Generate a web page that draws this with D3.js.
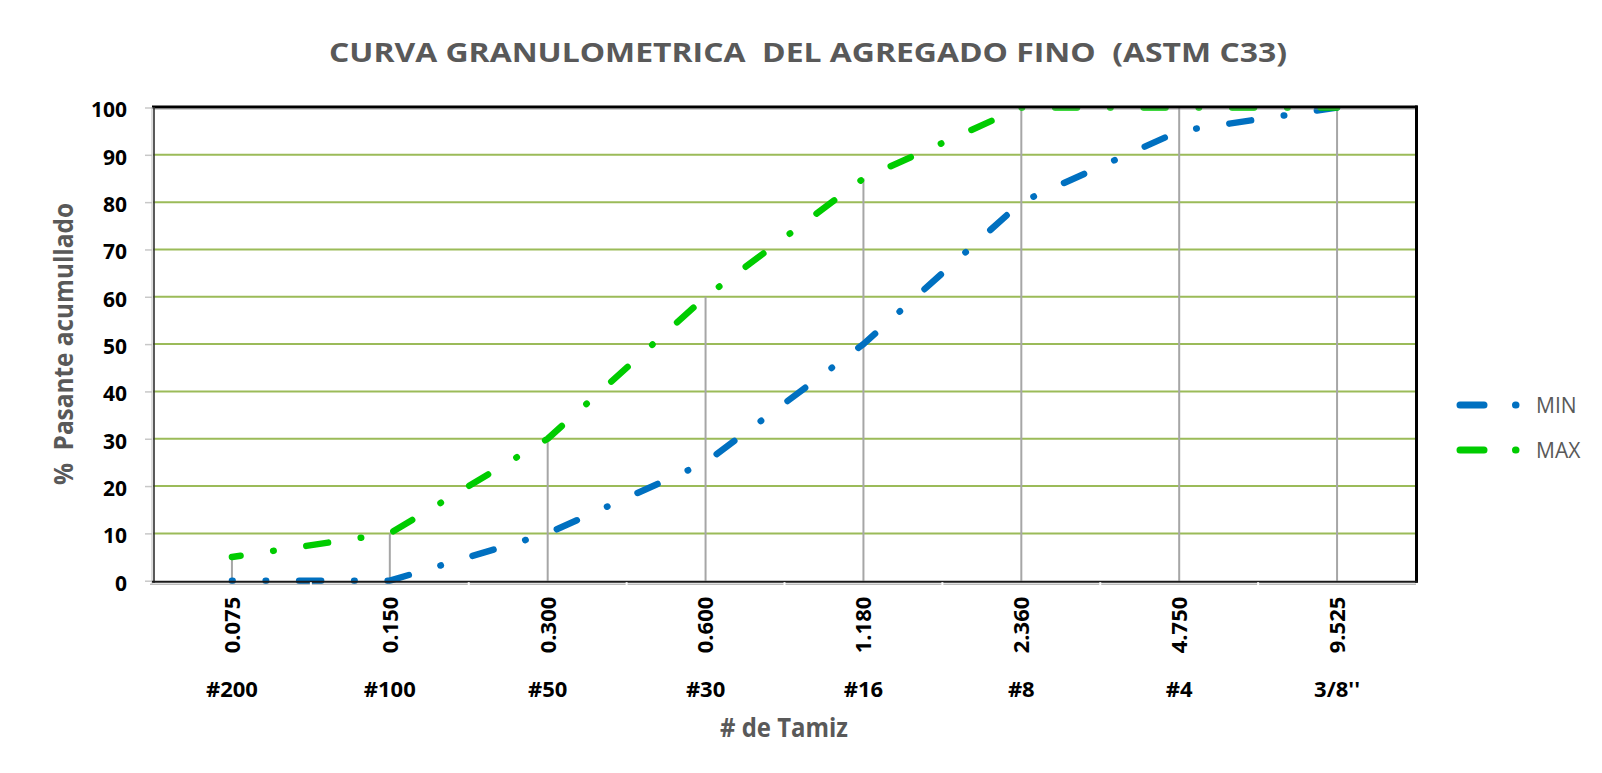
<!DOCTYPE html>
<html>
<head>
<meta charset="utf-8">
<script src="https://cdn.jsdelivr.net/npm/d3@7"></script>
<style>
  html, body { margin: 0; padding: 0; background: #ffffff; }
  svg { display: block; }
  text { font-family: "Open Sans", "DejaVu Sans", sans-serif; white-space: pre; }
</style>
</head>
<body>
<svg id="chart" width="1602" height="773"></svg>
<script>
// Sieve openings (mm) and sieve designations
const sieveSizes = ["0.075", "0.150", "0.300", "0.600", "1.180", "2.360", "4.750", "9.525"];
const sieveNames = ["#200", "#100", "#50", "#30", "#16", "#8", "#4", "3/8''"];

// ASTM C33 grading limits, % passing
const minPassing = [0, 0, 10, 25, 50, 80, 95, 100];
const maxPassing = [5, 10, 30, 60, 85, 100, 100, 100];

// Value axis ticks
const yTicks = [0, 10, 20, 30, 40, 50, 60, 70, 80, 90, 100];

const seriesNames = ["MIN", "MAX"];
const seriesColors = ["#0070C0", "#00CC00"];

const svg = d3.select("#chart");
const plot = { left: 153, right: 1416, top: 107.5, bottom: 580.7 };

const x = d3.scaleBand().domain(sieveSizes).range([plot.left, plot.right]);
const cx = d => x(d) + x.bandwidth() / 2;
const y = d3.scaleLinear().domain([0, 100]).range([plot.bottom, plot.top]);

// clip for the curves: nothing drawn above the plot frame
svg.append("defs").append("clipPath").attr("id", "plotClip")
  .append("rect")
  .attr("x", plot.left).attr("y", 106)
  .attr("width", plot.right - plot.left).attr("height", plot.bottom - 106 + 6);

// Title
svg.append("text")
  .attr("x", 808).attr("y", 62)
  .attr("text-anchor", "middle")
  .attr("font-family", "Lato, 'Open Sans', sans-serif")
  .attr("font-size", 27).attr("font-weight", 700)
  .attr("fill", "#595959")
  .attr("textLength", 958).attr("lengthAdjust", "spacingAndGlyphs")
  .text("CURVA GRANULOMETRICA  DEL AGREGADO FINO  (ASTM C33)");

// Horizontal gridlines
svg.append("g")
  .selectAll("line")
  .data(yTicks.filter(t => t > 0 && t < 100))
  .join("line")
  .attr("x1", plot.left).attr("x2", plot.right)
  .attr("y1", d => y(d)).attr("y2", d => y(d))
  .attr("stroke", "#9BBB59").attr("stroke-width", 2);

// Left value axis (labels + short outside ticks)
const yAxis = d3.axisLeft(y).tickValues(yTicks).tickSize(7).tickPadding(18);
const yAxisG = svg.append("g")
  .attr("transform", `translate(${plot.left - 1},0)`)
  .call(yAxis);
yAxisG.select(".domain").remove();
yAxisG.selectAll(".tick line").attr("stroke", "#c8c8c8").attr("stroke-width", 1.5);
yAxisG.selectAll(".tick text")
  .attr("font-size", 21).attr("font-weight", 700).attr("fill", "#000")
  .attr("font-family", "'Open Sans', sans-serif")
  .attr("dy", "0.45em");

// Category axis: rotated sieve openings
const xAxis = d3.axisBottom(x).tickSize(0).tickPadding(0);
const xAxisG = svg.append("g")
  .attr("transform", `translate(0,${plot.bottom})`)
  .call(xAxis);
xAxisG.select(".domain").remove();
xAxisG.selectAll(".tick text")
  .attr("font-size", 22).attr("font-weight", 700).attr("fill", "#000")
  .attr("font-family", "'Open Sans', sans-serif")
  .attr("text-anchor", "end")
  .attr("transform", "rotate(-90)")
  .attr("x", -16).attr("y", 0).attr("dy", "0.36em");

// Sieve designation row
svg.append("g")
  .selectAll("text")
  .data(sieveSizes)
  .join("text")
  .attr("x", d => cx(d))
  .attr("y", 697)
  .attr("text-anchor", "middle")
  .attr("font-size", 22).attr("font-weight", 700).attr("fill", "#000")
  .text((d, i) => sieveNames[i]);

// Axis titles
svg.append("text")
  .attr("transform", "translate(73,344) rotate(-90)")
  .attr("text-anchor", "middle")
  .attr("font-family", "Lato, 'Open Sans', sans-serif")
  .attr("font-size", 27).attr("font-weight", 700).attr("fill", "#595959")
  .attr("textLength", 282).attr("lengthAdjust", "spacingAndGlyphs")
  .text("%  Pasante acumullado");

svg.append("text")
  .attr("x", 784).attr("y", 737)
  .attr("text-anchor", "middle")
  .attr("font-family", "Lato, 'Open Sans', sans-serif")
  .attr("font-size", 27).attr("font-weight", 700).attr("fill", "#595959")
  .attr("textLength", 128).attr("lengthAdjust", "spacingAndGlyphs")
  .text("# de Tamiz");

// Drop lines from the upper limit to the category axis
svg.append("g")
  .selectAll("line")
  .data(sieveSizes)
  .join("line")
  .attr("x1", d => cx(d)).attr("x2", d => cx(d))
  .attr("y1", (d, i) => y(Math.max(minPassing[i], maxPassing[i])))
  .attr("y2", y(0))
  .attr("stroke", "#A6A6A6").attr("stroke-width", 2);

// Grading-limit curves (long dash + dot)
const dashPattern = "22,33,0.5,33";
const line = d3.line().x(d => cx(d.size)).y(d => y(d.value));
const series = [
  { name: "MIN", values: minPassing, color: seriesColors[0], offset: 21.3 },
  { name: "MAX", values: maxPassing, color: seriesColors[1], offset: 13.3 }
];
svg.append("g")
  .attr("clip-path", "url(#plotClip)")
  .selectAll("path")
  .data(series)
  .join("path")
  .attr("d", s => line(s.values.map((v, i) => ({ size: sieveSizes[i], value: v }))))
  .attr("fill", "none")
  .attr("stroke", s => s.color)
  .attr("stroke-width", 6.5)
  .attr("stroke-linecap", "round")
  .attr("stroke-linejoin", "round")
  .attr("stroke-dasharray", dashPattern)
  .attr("stroke-dashoffset", s => s.offset);

// Plot-area frame
const frame = svg.append("g");
frame.append("line").attr("x1", plot.left - 1).attr("x2", plot.right + 1.5)
  .attr("y1", 107).attr("y2", 107).attr("stroke", "#000").attr("stroke-width", 3);
frame.append("line").attr("x1", plot.left).attr("x2", plot.right)
  .attr("y1", 109.2).attr("y2", 109.2).attr("stroke", "#8c8c8c").attr("stroke-width", 1)
  .attr("opacity", 0.6);
frame.append("line").attr("x1", plot.right + 0.5).attr("x2", plot.right + 0.5)
  .attr("y1", 105.5).attr("y2", plot.bottom + 2).attr("stroke", "#000").attr("stroke-width", 3);
frame.append("line").attr("x1", 152).attr("x2", 152)
  .attr("y1", 107).attr("y2", plot.bottom + 3).attr("stroke", "#bdbdbd").attr("stroke-width", 1);
frame.append("line").attr("x1", 154).attr("x2", 154)
  .attr("y1", 107).attr("y2", plot.bottom + 2).attr("stroke", "#303030").attr("stroke-width", 1.6);
frame.append("line").attr("x1", plot.left - 1).attr("x2", plot.right + 1.5)
  .attr("y1", plot.bottom + 1).attr("y2", plot.bottom + 1).attr("stroke", "#1a1a1a").attr("stroke-width", 2);
frame.append("line").attr("x1", plot.left - 3).attr("x2", plot.right)
  .attr("y1", plot.bottom + 3.5).attr("y2", plot.bottom + 3.5).attr("stroke", "#a0a0a0").attr("stroke-width", 1);
// category boundary tick gaps on the axis
frame.selectAll("rect.gap")
  .data(sieveSizes.slice(1))
  .join("rect")
  .attr("class", "gap")
  .attr("x", d => x(d) - 1).attr("y", plot.bottom + 1.5)
  .attr("width", 2).attr("height", 3)
  .attr("fill", "#ffffff");

// Legend
const legend = svg.append("g")
  .selectAll("g")
  .data(series)
  .join("g")
  .attr("transform", (s, i) => `translate(0,${405 + i * 45})`);
legend.append("path")
  .attr("d", "M1460,0 H1517")
  .attr("fill", "none")
  .attr("stroke", s => s.color)
  .attr("stroke-width", 7)
  .attr("stroke-linecap", "round")
  .attr("stroke-dasharray", "24,31.5,0.5,40");
legend.append("text")
  .attr("x", 1536).attr("y", 8)
  .attr("font-size", 21).attr("fill", "#595959")
  .text(s => s.name);
</script>
</body>
</html>
